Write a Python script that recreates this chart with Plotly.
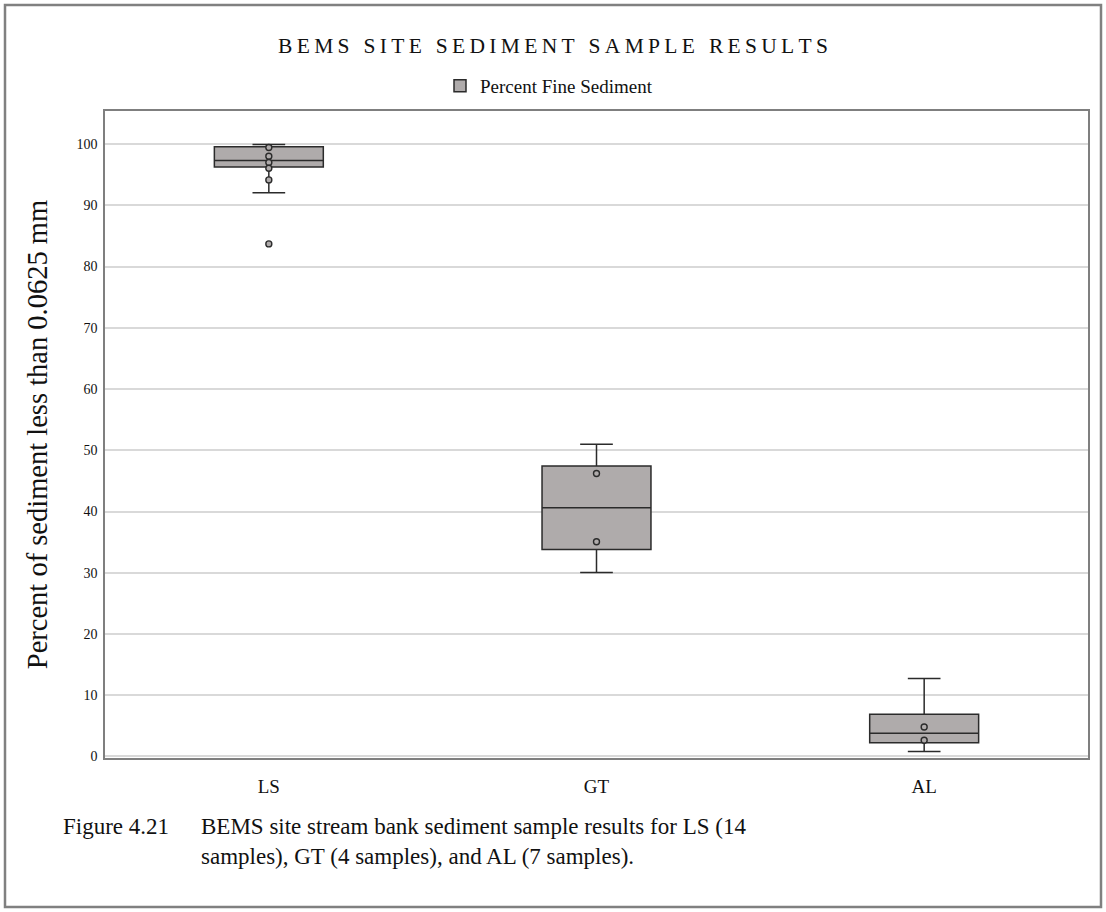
import plotly.graph_objects as go

# ---- data ----
sites = ["LS", "GT", "AL"]
q1 = [96.25, 33.8, 2.25]
median = [97.3, 40.6, 3.8]
q3 = [99.55, 47.45, 6.9]
lower_whisker = [92.05, 30.05, 0.8]
upper_whisker = [99.95, 51.0, 12.75]

point_sites = ["LS", "LS", "LS", "LS", "LS", "LS", "GT", "GT", "AL", "AL"]
point_values = [99.45, 98.0, 97.0, 96.05, 94.15, 83.7, 46.2, 35.05, 4.8, 2.65]

yticks = [0, 10, 20, 30, 40, 50, 60, 70, 80, 90, 100]

SERIF = "Liberation Serif, Times New Roman, serif"
BOX_FILL = "#afabab"
LINE = "#2b2b2b"

fig = go.Figure()
fig.add_trace(go.Box(
    x=sites, q1=q1, median=median, q3=q3,
    lowerfence=lower_whisker, upperfence=upper_whisker,
    name="Percent Fine Sediment",
    fillcolor=BOX_FILL,
    line=dict(color=LINE, width=1.5),
    whiskerwidth=0.3,
    boxpoints=False,
    showlegend=True,
    hoverinfo="skip",
))
fig.add_trace(go.Scatter(
    x=point_sites, y=point_values, mode="markers",
    marker=dict(size=6, color=BOX_FILL, line=dict(color=LINE, width=1.4)),
    showlegend=False, hoverinfo="skip",
))

def spaced(s):
    return "\u2009".join(list(s))

L, R, T, B = 105, 18, 111, 154
W, H = 1106, 912
pw, ph = W - L - R, H - T - B

def px_x(x):
    return (x - L) / pw

def px_y(y):
    return (H - B - y) / ph

fig.update_layout(
    width=W, height=H,
    margin=dict(l=L, r=R, t=T, b=B, autoexpand=False),
    paper_bgcolor="white", plot_bgcolor="white",
    font=dict(family=SERIF, color="#111111"),
    title=dict(
        text=spaced("BEMS SITE SEDIMENT SAMPLE RESULTS"),
        x=0.5, xref="container", xanchor="center",
        y=1 - 45 / H, yref="container", yanchor="middle",
        font=dict(family=SERIF, size=21.5, color="#111111"),
    ),
    legend=dict(
        orientation="h", x=px_x(440), xanchor="left",
        y=px_y(86), yanchor="middle",
        font=dict(family=SERIF, size=19, color="#111111"),
        bgcolor="rgba(0,0,0,0)", itemwidth=30,
    ),
    boxgap=0.525,
    xaxis=dict(
        type="category", categoryorder="array", categoryarray=sites,
        range=[-0.5, 2.5],
        showline=True, linecolor="#7f7f7f", linewidth=1.5, mirror=True,
        showgrid=False, ticks="",
        tickfont=dict(family=SERIF, size=19, color="#111111"),
        ticklabelstandoff=10,
    ),
    yaxis=dict(
        range=[-0.25, 105.4],
        tickvals=yticks,
        showline=True, linecolor="#7f7f7f", linewidth=1.5, mirror=True,
        showgrid=True, gridcolor="#d9d9d9", gridwidth=1.5,
        zeroline=False, ticks="",
        tickfont=dict(family=SERIF, size=14, color="#111111"),
        ticklabelstandoff=3,
        title=dict(text="Percent of sediment less than 0.0625 mm",
                   font=dict(family=SERIF, size=28.5, color="#111111"),
                   standoff=20),
    ),
    shapes=[dict(
        type="rect", xref="paper", yref="paper",
        x0=px_x(5), x1=px_x(1101), y0=px_y(907), y1=px_y(5),
        line=dict(color="#808080", width=2.5), fillcolor="rgba(0,0,0,0)",
        layer="below",
    )],
    annotations=[
        dict(text="Figure 4.21", xref="paper", yref="paper",
             x=px_x(61), y=px_y(826), xanchor="left", yanchor="middle",
             showarrow=False, font=dict(family=SERIF, size=23, color="#111111")),
        dict(text="BEMS site stream bank sediment sample results for LS (14<br>samples), GT (4 samples), and AL (7 samples).",
             xref="paper", yref="paper", align="left",
             x=px_x(199), y=px_y(841), xanchor="left", yanchor="middle",
             showarrow=False, font=dict(family=SERIF, size=23, color="#111111")),
    ],
)

fig.write_html("out.html",
               config={"displayModeBar": False},
               post_script="document.body.style.margin='0';document.body.style.overflow='hidden';")
